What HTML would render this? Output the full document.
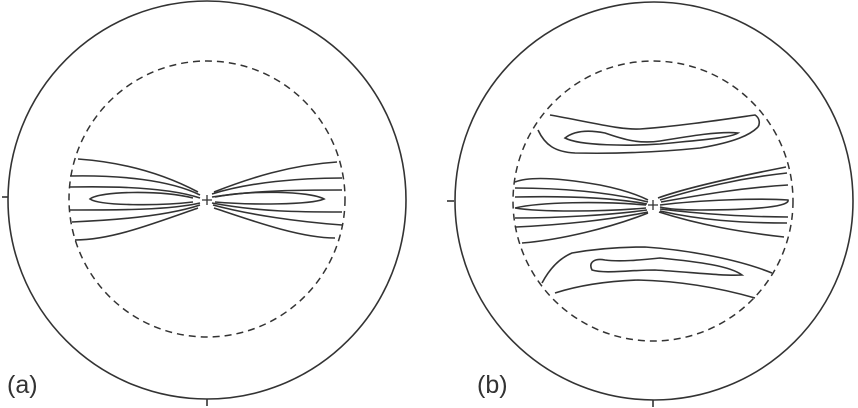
<!DOCTYPE html>
<html><head><meta charset="utf-8"><style>
html,body{margin:0;padding:0;background:#fff;width:858px;height:408px;overflow:hidden}
svg{display:block}
text{font-family:"Liberation Sans",sans-serif}
</style></head><body>
<svg width="858" height="408" viewBox="0 0 858 408">
<g fill="none" stroke="#333" stroke-width="1.6">
  <circle cx="207" cy="200" r="199"/>
  <circle cx="207" cy="199" r="138" stroke-dasharray="7,5" stroke-width="1.5"/>
  <line x1="2" y1="197" x2="8" y2="197"/>
  <line x1="207" y1="399" x2="207" y2="406"/>
  <g>
    <path d="M78,159 C120,162 160,172 198,192 M214,192 C250,178 290,165 337,162"/>
    <path d="M70,176 C120,175 170,180 200,195 M212,194 C250,182 300,178 342,178"/>
    <path d="M70,187 C120,186 170,188 200,198 M212,197 C260,190 300,190 342,190"/>
    <path d="M193,198 C160,190 100,191 90,199 C100,206 160,206 193,202"/>
    <path d="M215,197 C250,190 310,191 324,199 C310,205 250,205 215,202"/>
    <path d="M70,210 C120,210 170,210 200,203 M212,203 C260,212 300,212 342,212"/>
    <path d="M72,222 C120,220 170,215 200,205 M213,205 C250,215 300,222 342,225"/>
    <path d="M75,240 C110,240 150,225 198,208 M214,208 C250,220 300,238 335,238"/>
  </g>
  <path d="M202,200 H212 M207,195 V205" stroke-width="1.3"/>
</g>
<g fill="none" stroke="#333" stroke-width="1.6">
  <circle cx="654" cy="201" r="199"/>
  <circle cx="653" cy="201" r="140" stroke-dasharray="7,5" stroke-width="1.5"/>
  <line x1="447" y1="201" x2="454" y2="201"/>
  <line x1="653" y1="400" x2="653" y2="407"/>
  <g>
    <path d="M550,115 C590,122 620,130 640,129 C680,126 720,120 755,115 C760,118 760,124 758,127"/>
    <path d="M538,130 C545,145 555,152 575,153 C620,154 660,152 700,148 C735,142 750,135 758,127"/>
    <path d="M565,138 C575,130 590,130 605,133 C625,140 640,144 660,141 C690,136 720,131 738,133 C730,138 700,140 660,144 C630,146 580,146 565,138Z"/>
    <path d="M515,182 C530,176 560,178 600,185 C625,190 640,196 648,200 M658,198 C680,190 720,180 786,167"/>
    <path d="M515,188 C560,188 610,192 648,202 M660,200 C700,188 740,178 787,173"/>
    <path d="M515,197 C560,196 610,197 647,204 M661,202 C700,195 740,188 788,185"/>
    <path d="M515,208 C540,202 600,201 646,205 M660,205 C700,200 760,198 788,200 C790,206 760,210 700,210 C680,210 668,209 660,207 M646,208 C600,212 540,212 515,208"/>
    <path d="M515,218 C560,218 610,215 647,210 M660,209 C700,214 750,217 788,217"/>
    <path d="M516,227 C560,225 610,220 648,212 M660,211 C700,220 740,223 787,223"/>
    <path d="M522,243 C560,240 610,228 648,213 M659,212 C700,225 740,232 784,237"/>
    <path d="M542,283 C550,268 560,258 572,253 C600,248 625,247 645,247 C690,250 740,260 772,273"/>
    <path d="M555,293 C580,285 610,281 638,280 C680,281 720,288 755,298"/>
    <path d="M592,270 C588,262 595,258 605,260 C620,262 640,260 660,258 C700,262 730,266 742,275 C720,276 690,272 655,270 C630,270 605,274 592,270Z"/>
  </g>
  <path d="M648,205 H658 M653,200 V210" stroke-width="1.3"/>
</g>
<text x="7" y="393" font-size="25" fill="#333">(a)</text>
<text x="477" y="393" font-size="25" fill="#333">(b)</text>
</svg>
</body></html>
